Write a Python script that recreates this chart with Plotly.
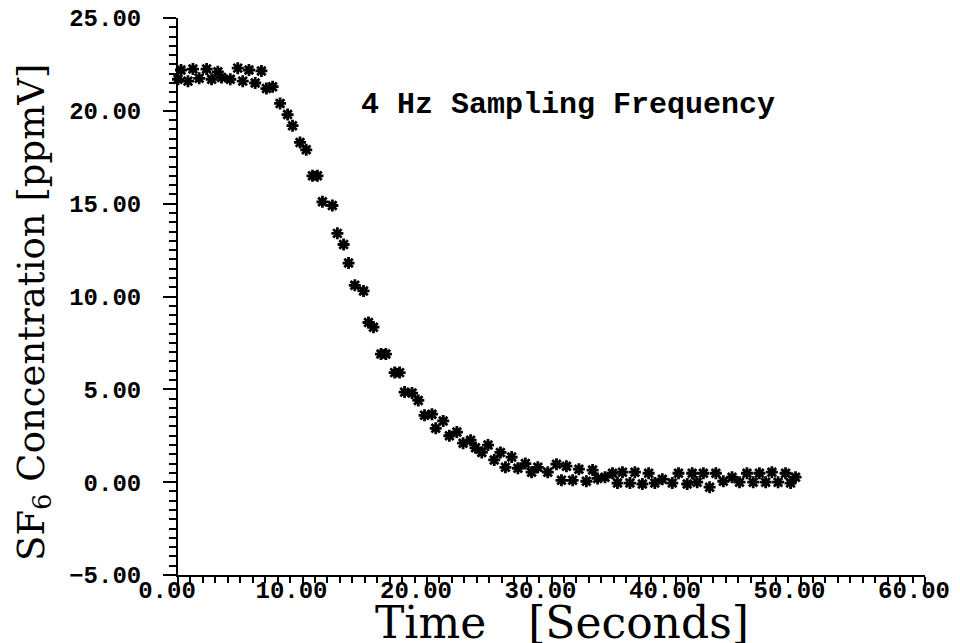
import plotly.graph_objects as go

time_s = [0.0, 0.24, 0.8, 1.2, 1.7, 2.3, 2.7, 3.2, 3.5, 4.2, 4.8, 5.2, 5.7, 6.2, 6.7,
          7.1, 7.6, 8.2, 8.8, 9.2, 9.8, 10.3, 10.8, 11.2, 11.6, 12.4, 12.8, 13.3, 13.7,
          14.2, 14.9, 15.3, 15.7, 16.3, 16.7, 17.4, 17.8, 18.2, 18.8, 19.3, 19.8, 20.4,
          20.7, 21.3, 21.8, 22.4, 22.9, 23.5, 23.9, 24.4, 24.9, 25.4, 25.9, 26.3, 26.8,
          27.3, 27.9, 28.4, 28.9, 29.7, 30.4, 30.8, 31.2, 31.7, 32.2, 32.8, 33.3, 33.7,
          34.3, 34.9, 35.3, 35.7, 36.3, 36.7, 37.3, 37.8, 38.3, 38.9, 39.7, 40.2, 40.9,
          41.3, 41.7, 42.2, 42.7, 43.2, 43.8, 44.5, 45.1, 45.7, 46.2, 46.7, 47.2, 47.7,
          48.2, 48.8, 49.2, 49.6]
sf6_ppmv = [21.7, 22.2, 21.6, 22.25, 21.75, 22.25, 21.7, 22.1, 21.8, 21.7, 22.3, 21.6,
            22.2, 21.5, 22.15, 21.2, 21.3, 20.4, 19.8, 19.2, 18.3, 17.9, 16.5, 16.5,
            15.1, 14.9, 13.4, 12.8, 11.8, 10.6, 10.3, 8.6, 8.35, 6.9, 6.9, 5.9, 5.9,
            4.85, 4.8, 4.4, 3.6, 3.66, 2.9, 3.3, 2.5, 2.7, 2.1, 2.26, 1.85, 1.6, 2.0,
            1.2, 1.6, 0.8, 1.35, 0.75, 1.0, 0.54, 0.8, 0.54, 0.97, 0.1, 0.86, 0.1, 0.7,
            0.05, 0.65, 0.2, 0.27, 0.48, -0.05, 0.54, -0.05, 0.54, -0.1, 0.48, -0.05,
            0.16, -0.05, 0.48, -0.1, 0.48, 0.0, 0.48, -0.27, 0.48, 0.05, 0.27, 0.0, 0.48,
            0.0, 0.48, 0.0, 0.54, 0.0, 0.48, -0.05, 0.27]

x_range = [0, 60]
y_range = [-5, 25]

fig = go.Figure()
fig.add_trace(go.Scatter(
    x=time_s, y=sf6_ppmv, mode="markers",
    marker=dict(symbol="asterisk-open", size=10, color="black",
                line=dict(color="black", width=2.8)),
    showlegend=False, hoverinfo="skip", cliponaxis=False))

tick_font = dict(family="Liberation Mono", size=24, color="black", weight="bold")

fig.update_layout(
    width=960, height=643,
    margin=dict(l=170, r=43, t=10, b=76, autoexpand=False),
    paper_bgcolor="white", plot_bgcolor="white",
    xaxis=dict(range=x_range, dtick=10, tickformat=".2f", showgrid=False,
               zeroline=False, showline=True, linecolor="black", linewidth=2,
               ticks="outside", ticklen=9, tickwidth=2, tickcolor="black",
               minor=dict(dtick=1, ticks="outside", ticklen=6, tickwidth=1.5,
                          tickcolor="black", showgrid=False),
               tickfont=tick_font, automargin=False, ticklabeloverflow="allow",
               ticklabelshift=-11, ticklabelstandoff=-17),
    yaxis=dict(range=y_range, dtick=5, tickformat=".2f", showgrid=False,
               zeroline=False, showline=True, linecolor="black", linewidth=2,
               ticks="outside", ticklen=13, tickwidth=2, tickcolor="black",
               minor=dict(dtick=0.5, ticks="outside", ticklen=7, tickwidth=1.5,
                          tickcolor="black", showgrid=False),
               tickfont=tick_font, automargin=False, ticklabeloverflow="allow",
               ticklabelstandoff=17),
    annotations=[
        dict(x=14.5, y=20.3, xref="x", yref="y", xanchor="left",
             yanchor="middle", showarrow=False,
             text="4 Hz Sampling Frequency",
             font=dict(family="Liberation Mono", size=30, color="black",
                       weight="bold")),
        dict(x=0.514, y=-0.036, xref="paper", yref="paper", xanchor="center",
             yanchor="top", showarrow=False,
             text="Time\u00a0\u00a0\u00a0[Seconds]",
             font=dict(family="DejaVu Serif", size=44, color="black")),
        dict(x=-0.193, y=0.472, xref="paper", yref="paper", xanchor="center",
             yanchor="middle", showarrow=False, textangle=-90,
             text="SF<sub>6</sub> Concentration [ppmV]",
             font=dict(family="DejaVu Serif", size=37, color="black")),
    ],
)

fig.write_html("out.html")
